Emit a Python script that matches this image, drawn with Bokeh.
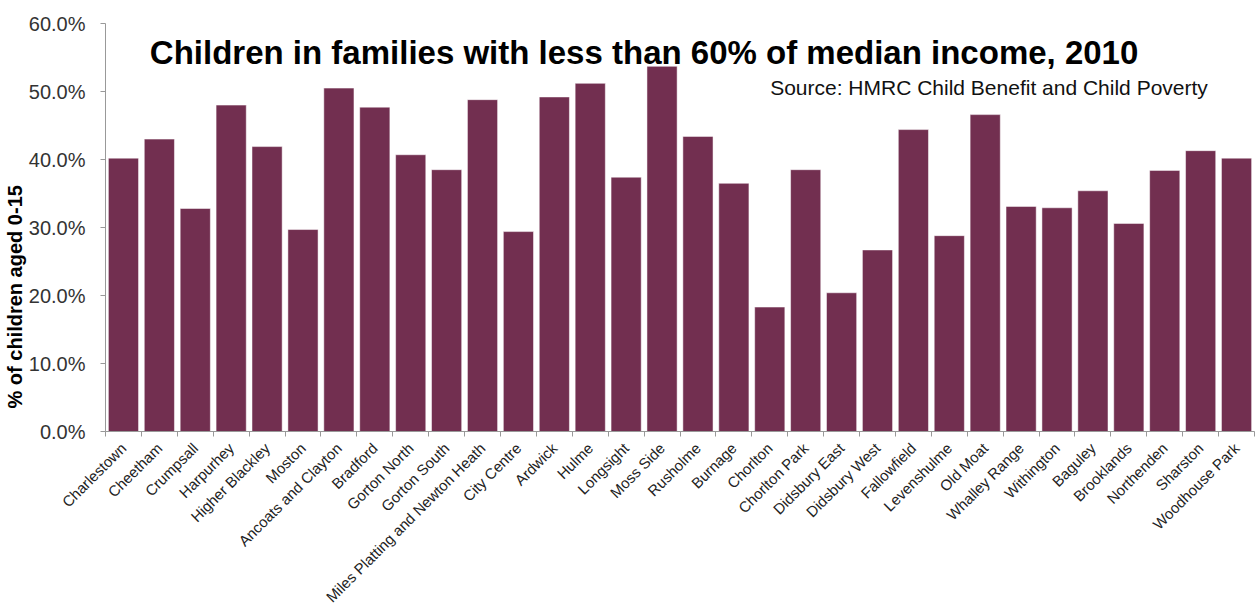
import math
from bokeh.plotting import figure
from bokeh.models import Label, FixedTicker, NumeralTickFormatter, Range1d, ColumnDataSource, Title
from bokeh.embed import file_html
from bokeh.resources import INLINE

wards = ["Charlestown", "Cheetham", "Crumpsall", "Harpurhey", "Higher Blackley", "Moston",
         "Ancoats and Clayton", "Bradford", "Gorton North", "Gorton South",
         "Miles Platting and Newton Heath", "City Centre", "Ardwick", "Hulme", "Longsight",
         "Moss Side", "Rusholme", "Burnage", "Chorlton", "Chorlton Park", "Didsbury East",
         "Didsbury West", "Fallowfield", "Levenshulme", "Old Moat", "Whalley Range",
         "Withington", "Baguley", "Brooklands", "Northenden", "Sharston", "Woodhouse Park"]
pct = [0.402, 0.430, 0.328, 0.480, 0.419, 0.297, 0.505, 0.477, 0.407, 0.385,
       0.488, 0.294, 0.492, 0.512, 0.374, 0.537, 0.434, 0.365, 0.183, 0.385,
       0.204, 0.267, 0.444, 0.288, 0.466, 0.331, 0.329, 0.354, 0.306, 0.384,
       0.413, 0.402]
y_ticks = [0.0, 0.1, 0.2, 0.3, 0.4, 0.5, 0.6]

title_text = "Children in families with less than 60% of median income, 2010"
source_text = "Source: HMRC Child Benefit and Child Poverty"
y_label = "% of children aged 0-15"

n = len(wards)
idx = list(range(n))
src = ColumnDataSource(dict(x=idx, top=pct))

p = figure(width=1258, height=614, output_backend="svg", toolbar_location=None,
           x_range=Range1d(-0.5, n - 0.5), y_range=Range1d(0, 0.6),
           min_border_left=105, min_border_right=4, min_border_top=23, min_border_bottom=181)
p.outline_line_color = None
p.grid.visible = False
p.background_fill_color = "white"

p.vbar(x="x", top="top", width=0.84, source=src, fill_color="#722F50", line_color="#ffffff", line_width=0.5)

xa = p.xaxis[0]
xa.ticker = FixedTicker(ticks=idx, minor_ticks=[i - 0.5 for i in range(n + 1)])
xa.major_label_overrides = {i: w for i, w in enumerate(wards)}
xa.major_label_orientation = math.pi / 4
xa.major_tick_line_color = None
xa.minor_tick_line_color = "#999999"
xa.minor_tick_out = 5
xa.minor_tick_in = 0
xa.axis_line_color = "#999999"
xa.major_label_text_font = "Liberation Sans"
xa.major_label_text_font_size = "15px"
xa.major_label_text_color = "#222222"
xa.major_label_standoff = 8

ya = p.yaxis[0]
ya.ticker = FixedTicker(ticks=y_ticks)
ya.formatter = NumeralTickFormatter(format="0.0%")
ya.minor_tick_line_color = None
ya.major_tick_line_color = "#999999"
ya.major_tick_out = 5
ya.major_tick_in = 0
ya.axis_line_color = "#999999"
ya.major_label_text_font = "Liberation Sans"
ya.major_label_text_font_size = "20px"
ya.major_label_text_color = "#333333"
ya.major_label_standoff = 15

p.add_layout(Title(text=y_label, align="left", offset=23, text_font="Liberation Sans",
                   text_font_style="bold", text_font_size="20px", text_color="#000000",
                   standoff=0), "left")

p.add_layout(Label(x=14.5, y=0.558, text=title_text, text_align="center", text_baseline="middle",
                   text_font="Liberation Sans", text_font_style="bold", text_font_size="33px",
                   text_color="#000000"))
p.add_layout(Label(x=30.2, y=0.5066, text=source_text, text_align="right", text_baseline="middle",
                   text_font="Liberation Sans", text_font_size="21px", text_color="#111111"))

open("out.html", "w").write(file_html(p, INLINE))
